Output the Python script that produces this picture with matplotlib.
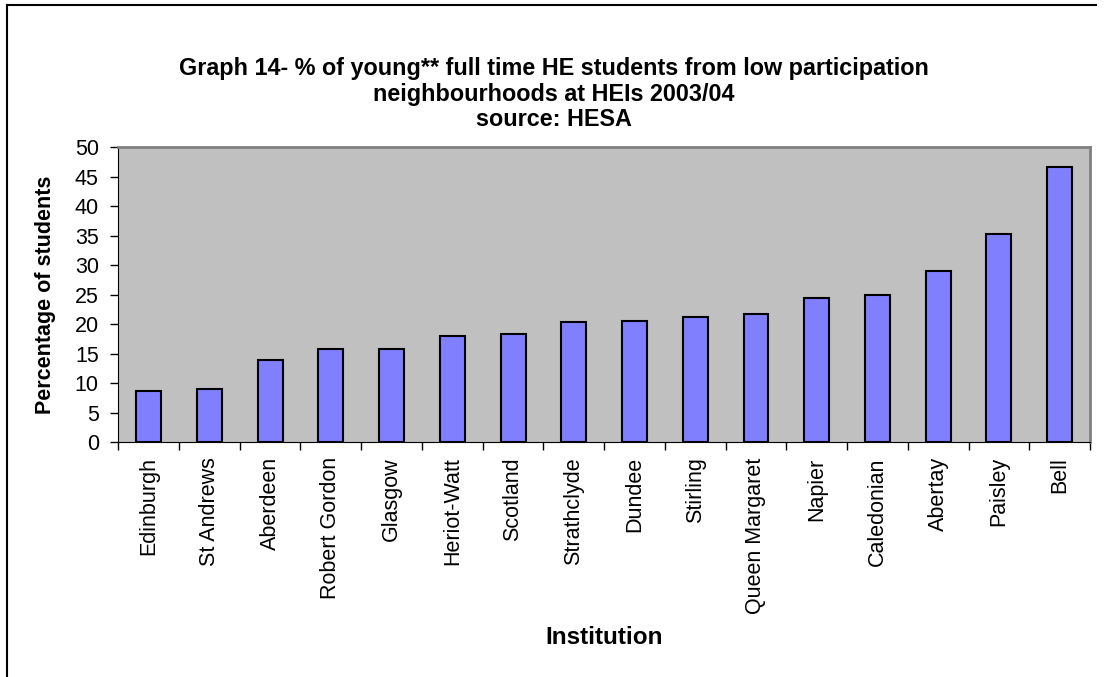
import numpy as np
import matplotlib.pyplot as plt
from matplotlib.lines import Line2D

institutions = ['Edinburgh', 'St Andrews', 'Aberdeen', 'Robert Gordon', 'Glasgow',
                'Heriot-Watt', 'Scotland', 'Strathclyde', 'Dundee', 'Stirling',
                'Queen Margaret', 'Napier', 'Caledonian', 'Abertay', 'Paisley', 'Bell']
percent_low = [8.7, 9.05, 13.9, 15.7, 15.8, 17.9, 18.3, 20.4, 20.6, 21.2,
               21.8, 24.5, 24.9, 29.0, 35.35, 46.6]
y_ticks = [0, 5, 10, 15, 20, 25, 30, 35, 40, 45, 50]

plt.rcParams['font.family'] = ['Liberation Sans', 'DejaVu Sans']

W, H = 1106, 677
fig = plt.figure(figsize=(W / 100, H / 100), dpi=100)
ax = fig.add_axes([118.3 / W, (H - 442) / H, (1090 - 118.3) / W, 294.7 / H])

x = np.arange(len(institutions))
ax.bar(x, percent_low, width=0.41, color='#8080FF', edgecolor='black', linewidth=1.5, zorder=3)

ax.set_facecolor('#C0C0C0')
ax.set_xlim(-0.5, len(institutions) - 0.5)
ax.set_ylim(0, 50)
ax.set_yticks(y_ticks)
ax.tick_params(axis='y', labelsize=15.5, length=6, width=1, direction='out', pad=8)

# labels at centres, tick marks at category boundaries
ax.set_xticks(x)
ax.set_xticklabels(institutions, rotation=90, fontsize=15.5)
ax.set_xticks(np.arange(-0.5, len(institutions)), minor=True)
ax.tick_params(axis='x', which='major', length=0, pad=11)
ax.tick_params(axis='x', which='minor', length=6, width=1, direction='out')

for side in ['top', 'right']:
    ax.spines[side].set_color('#808080')
    ax.spines[side].set_linewidth(2)
ax.spines['left'].set_color('black')
ax.spines['bottom'].set_color('black')

# axis titles placed in figure pixels
fig.text(46 / W, (H - 295) / H, 'Percentage of students', rotation=90,
         ha='center', va='center', fontsize=15.5, fontweight='bold')
fig.text(604 / W, (H - 638) / H, 'Institution',
         ha='center', va='center', fontsize=17.5, fontweight='bold')

# chart title is centred on the whole chart area
fig.text(554 / W, (H - 94) / H,
         'Graph 14- % of young** full time HE students from low participation\n'
         'neighbourhoods at HEIs 2003/04\nsource: HESA',
         ha='center', va='center', fontsize=16.8, fontweight='bold', linespacing=1.13)

# outer chart frame (top and left edges visible)
fig.add_artist(Line2D([7 / W, 1096 / W], [(H - 5) / H, (H - 5) / H], color='black', lw=1.5,
                      transform=fig.transFigure))
fig.add_artist(Line2D([7 / W, 7 / W], [0, (H - 5) / H], color='black', lw=1.5,
                      transform=fig.transFigure))

fig.savefig('out.png', dpi=100, facecolor='white')
